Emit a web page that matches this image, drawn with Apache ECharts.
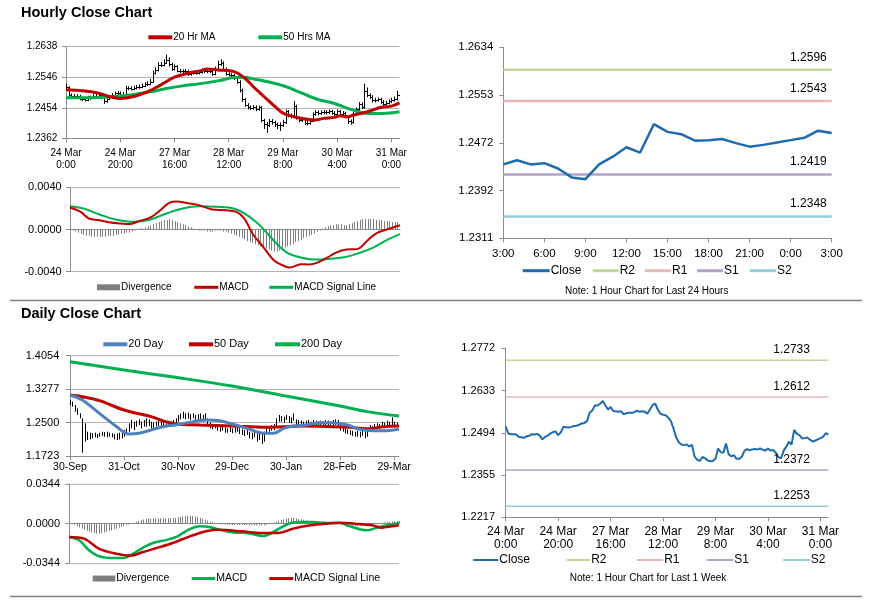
<!DOCTYPE html>
<html><head><meta charset="utf-8">
<script src="https://cdn.jsdelivr.net/npm/echarts@6/dist/echarts.min.js"></script>
<style>html,body{margin:0;padding:0;background:#fff}#c{width:873px;height:601px}</style>
</head><body><div id="c"></div>
<script>
const FONT = "'Liberation Sans', Arial, sans-serif";

// ---------- Hourly (last week) ----------
const hourTickIdx = [0, 20, 40, 60, 80, 100, 120];
const hourTickLabels = ['24 Mar\n0:00', '24 Mar\n20:00', '27 Mar\n16:00', '28 Mar\n12:00', '29 Mar\n8:00', '30 Mar\n4:00', '31 Mar\n0:00'];
const hourPriceTicks = ['1.2362', '1.2454', '1.2546', '1.2638'];
const hourMacdTicks = ['-0.0040', '0.0000', '0.0040'];
const weekTicks = ['1.2217', '1.2355', '1.2494', '1.2633', '1.2772'];

const hourlyClose = [
 1.2516,1.2492,1.2490,1.2490,1.2489,1.2481,1.2480,1.2478,1.2483,1.2485,
 1.2490,1.2489,1.2491,1.2485,1.2473,1.2481,1.2485,1.2492,1.2497,1.2499,
 1.2487,1.2496,1.2514,1.2513,1.2512,1.2514,1.2517,1.2518,1.2521,1.2525,
 1.2527,1.2533,1.2560,1.2568,1.2584,1.2584,1.2590,1.2599,1.2585,1.2571,
 1.2579,1.2566,1.2565,1.2564,1.2565,1.2555,1.2559,1.2560,1.2560,1.2562,
 1.2567,1.2564,1.2565,1.2564,1.2557,1.2571,1.2586,1.2590,1.2571,1.2557,
 1.2554,1.2552,1.2544,1.2533,1.2508,1.2479,1.2463,1.2456,1.2454,1.2456,
 1.2450,1.2455,1.2417,1.2406,1.2402,1.2415,1.2411,1.2404,1.2401,1.2402,
 1.2410,1.2443,1.2431,1.2429,1.2459,1.2424,1.2417,1.2421,1.2409,1.2409,
 1.2415,1.2435,1.2441,1.2437,1.2440,1.2441,1.2440,1.2443,1.2439,1.2436,
 1.2443,1.2436,1.2438,1.2429,1.2414,1.2411,1.2436,1.2449,1.2465,1.2456,
 1.2504,1.2491,1.2487,1.2476,1.2477,1.2479,1.2472,1.2466,1.2469,1.2473,
 1.2477,1.2481,1.2493,1.2489];
const hourlyHigh = [
 1.2526,1.2519,1.2497,1.2496,1.2495,1.2493,1.2487,1.2486,1.2490,1.2491,
 1.2496,1.2495,1.2498,1.2495,1.2488,1.2486,1.2490,1.2498,1.2503,1.2505,
 1.2503,1.2501,1.2520,1.2519,1.2518,1.2520,1.2522,1.2524,1.2527,1.2531,
 1.2534,1.2541,1.2566,1.2576,1.2591,1.2592,1.2600,1.2614,1.2606,1.2590,
 1.2585,1.2583,1.2571,1.2570,1.2571,1.2569,1.2565,1.2566,1.2567,1.2568,
 1.2573,1.2572,1.2571,1.2571,1.2568,1.2578,1.2596,1.2600,1.2594,1.2575,
 1.2561,1.2559,1.2557,1.2549,1.2537,1.2512,1.2484,1.2468,1.2461,1.2462,
 1.2461,1.2461,1.2459,1.2421,1.2411,1.2420,1.2420,1.2415,1.2409,1.2410,
 1.2418,1.2449,1.2447,1.2437,1.2474,1.2463,1.2428,1.2427,1.2425,1.2415,
 1.2421,1.2440,1.2447,1.2446,1.2446,1.2447,1.2447,1.2449,1.2448,1.2444,
 1.2449,1.2447,1.2444,1.2442,1.2432,1.2419,1.2441,1.2455,1.2471,1.2470,
 1.2527,1.2515,1.2497,1.2492,1.2484,1.2485,1.2484,1.2477,1.2475,1.2479,
 1.2484,1.2488,1.2505,1.2499];
const hourlyLow = [
 1.2505,1.2487,1.2484,1.2483,1.2482,1.2476,1.2474,1.2473,1.2474,1.2478,
 1.2481,1.2484,1.2483,1.2479,1.2466,1.2469,1.2477,1.2481,1.2487,1.2490,
 1.2482,1.2483,1.2492,1.2507,1.2506,1.2507,1.2509,1.2511,1.2513,1.2516,
 1.2519,1.2522,1.2530,1.2554,1.2563,1.2576,1.2579,1.2586,1.2578,1.2565,
 1.2566,1.2561,1.2559,1.2558,1.2558,1.2550,1.2551,1.2554,1.2554,1.2555,
 1.2557,1.2559,1.2558,1.2558,1.2550,1.2552,1.2566,1.2580,1.2566,1.2551,
 1.2548,1.2546,1.2538,1.2526,1.2500,1.2472,1.2457,1.2449,1.2447,1.2448,
 1.2444,1.2445,1.2410,1.2390,1.2378,1.2396,1.2403,1.2396,1.2390,1.2384,
 1.2396,1.2405,1.2425,1.2422,1.2425,1.2418,1.2410,1.2411,1.2402,1.2401,
 1.2403,1.2411,1.2430,1.2431,1.2432,1.2434,1.2434,1.2435,1.2433,1.2430,
 1.2431,1.2430,1.2431,1.2422,1.2405,1.2403,1.2406,1.2431,1.2444,1.2450,
 1.2451,1.2486,1.2480,1.2470,1.2470,1.2472,1.2466,1.2460,1.2461,1.2464,
 1.2468,1.2472,1.2476,1.2483];

const ma20hIdx = [0,6,12,16,20,25,30,35,40,45,50,52,56,62,66,69,73,77,80,84,88,92,95,99,101,104,106,109,113,116,120,123];
const ma20hVal = [1.2508,1.2505,1.2498,1.2488,1.2482,1.2488,1.2502,1.2523,1.2546,1.2558,1.2566,1.2571,1.2568,1.2563,1.2543,1.2518,1.2488,1.2458,1.2438,1.2427,1.2420,1.2417,1.2422,1.2425,1.2430,1.2427,1.2432,1.2437,1.2447,1.2455,1.2459,1.2469];
const ma50hIdx = [0,6,12,19,25,31,37,43,49,56,62,66,69,74,81,87,93,99,105,109,112,117,123];
const ma50hVal = [1.2484,1.2484,1.2485,1.2489,1.2494,1.2502,1.2512,1.2520,1.2526,1.2535,1.2545,1.2546,1.2541,1.2533,1.2518,1.2498,1.2479,1.2467,1.2449,1.2440,1.2437,1.2437,1.2442];

const macdHIdx = [0,4,7,11,15,19,22,26,30,34,37,40,43,48,53,58,62,65,68,72,76,80,82,86,89,92,96,99,103,107,111,114,118,123];
const macdHVal = [0.00209,0.00167,0.00104,0.00088,0.00066,0.00057,0.00051,0.00082,0.00114,0.0019,0.00253,0.00265,0.00253,0.00231,0.0019,0.00183,0.00167,0.00104,-0.00038,-0.00164,-0.00291,-0.00348,-0.0036,-0.00329,-0.00332,-0.00316,-0.00265,-0.00221,-0.0019,-0.00186,-0.00101,-0.00038,0,0.00041];
const sigHIdx = [0,5,11,17,24,30,36,42,48,55,61,65,70,73,77,81,86,91,94,98,103,108,113,118,123];
const sigHVal = [0.00221,0.00199,0.00142,0.00095,0.00073,0.00095,0.00152,0.00199,0.00221,0.00215,0.00199,0.00152,0.00057,-0.00022,-0.00133,-0.00221,-0.00265,-0.00284,-0.00284,-0.00275,-0.00259,-0.00221,-0.00171,-0.00101,-0.00044];
const divH = [
 0.0000,-0.0001,-0.0002,-0.0003,-0.0004,-0.0005,-0.0006,-0.0006,-0.0007,-0.0007,
 -0.0007,-0.0007,-0.0007,-0.0007,-0.0006,-0.0006,-0.0006,-0.0005,-0.0005,-0.0004,
 -0.0004,-0.0003,-0.0003,-0.0002,-0.0001,0.0000,0.0001,0.0001,0.0002,0.0003,
 0.0004,0.0005,0.0006,0.0007,0.0008,0.0009,0.0009,0.0010,0.0009,0.0008,
 0.0007,0.0006,0.0005,0.0004,0.0003,0.0002,0.0001,0.0000,-0.0001,-0.0001,
 -0.0001,-0.0002,-0.0002,-0.0002,-0.0001,-0.0001,-0.0001,-0.0002,-0.0002,-0.0003,
 -0.0004,-0.0005,-0.0006,-0.0007,-0.0008,-0.0009,-0.0011,-0.0012,-0.0013,-0.0014,
 -0.0015,-0.0016,-0.0017,-0.0018,-0.0019,-0.0020,-0.0021,-0.0021,-0.0020,-0.0019,
 -0.0017,-0.0016,-0.0015,-0.0014,-0.0012,-0.0011,-0.0010,-0.0008,-0.0007,-0.0006,
 -0.0005,-0.0004,-0.0002,-0.0001,0.0001,0.0002,0.0003,0.0004,0.0004,0.0005,
 0.0005,0.0005,0.0004,0.0004,0.0005,0.0006,0.0007,0.0008,0.0009,0.0010,
 0.0010,0.0010,0.0010,0.0010,0.0009,0.0009,0.0009,0.0008,0.0008,0.0008,
 0.0007,0.0007,0.0007,0.0007];

// ---------- Last 24 hours ----------
const h24TickIdx = [0,3,6,9,12,15,18,21,24];
const h24Labels = ['3:00','6:00','9:00','12:00','15:00','18:00','21:00','0:00','3:00'];
const h24Ticks = ['1.2311','1.2392','1.2472','1.2553','1.2634'];
const levelNames = ['R2','R1','S1','S2'];
const levels24 = [1.2596, 1.2543, 1.2419, 1.2348];
const levelsWeek = [1.2733, 1.2612, 1.2372, 1.2253];

// ---------- Daily ----------
const dayTickIdx = [0,22,44,66,88,110,132];
const dayTickLabels = ['30-Sep','31-Oct','30-Nov','29-Dec','30-Jan','28-Feb','29-Mar'];
const dayPriceTicks = ['1.1723','1.2500','1.3277','1.4054'];
const dayMacdTicks = ['-0.0344','0.0000','0.0344'];
const dailyHigh = [
 1.3024,1.2985,1.2908,1.2830,1.2714,1.2598,1.2482,1.2288,1.2265,1.2250,
 1.2265,1.2234,1.2265,1.2288,1.2281,1.2288,1.2265,1.2250,1.2234,1.2250,
 1.2265,1.2288,1.2327,1.2366,1.2482,1.2559,1.2521,1.2544,1.2575,1.2521,
 1.2559,1.2598,1.2575,1.2521,1.2497,1.2521,1.2544,1.2521,1.2497,1.2482,
 1.2497,1.2521,1.2559,1.2598,1.2676,1.2714,1.2753,1.2714,1.2730,1.2699,
 1.2714,1.2676,1.2699,1.2714,1.2676,1.2714,1.2598,1.2497,1.2443,1.2466,
 1.2420,1.2405,1.2420,1.2389,1.2366,1.2405,1.2366,1.2389,1.2420,1.2366,
 1.2343,1.2327,1.2366,1.2288,1.2265,1.2312,1.2250,1.2288,1.2250,1.2288,
 1.2405,1.2420,1.2443,1.2466,1.2598,1.2676,1.2652,1.2637,1.2676,1.2652,
 1.2621,1.2714,1.2575,1.2559,1.2544,1.2521,1.2544,1.2559,1.2521,1.2559,
 1.2544,1.2521,1.2544,1.2521,1.2559,1.2544,1.2521,1.2559,1.2575,1.2559,
 1.2443,1.2405,1.2366,1.2343,1.2327,1.2312,1.2288,1.2312,1.2288,1.2312,
 1.2288,1.2366,1.2443,1.2420,1.2466,1.2482,1.2466,1.2521,1.2497,1.2544,
 1.2521,1.2621,1.2521,1.2497,1.2482];
const dailyLow = [
 1.2908,1.2869,1.2753,1.2676,1.2598,1.1801,1.2056,1.2095,1.2110,1.2134,
 1.2157,1.2141,1.2172,1.2188,1.2172,1.2157,1.2172,1.2157,1.2110,1.2095,
 1.2110,1.2134,1.2172,1.2250,1.2288,1.2366,1.2327,1.2405,1.2443,1.2366,
 1.2405,1.2405,1.2420,1.2366,1.2343,1.2405,1.2420,1.2405,1.2366,1.2389,
 1.2405,1.2420,1.2443,1.2466,1.2521,1.2575,1.2598,1.2575,1.2590,1.2559,
 1.2598,1.2544,1.2559,1.2575,1.2521,1.2559,1.2420,1.2366,1.2343,1.2366,
 1.2312,1.2288,1.2312,1.2265,1.2265,1.2281,1.2250,1.2265,1.2288,1.2234,
 1.2211,1.2188,1.2211,1.2134,1.2110,1.2157,1.2056,1.2095,1.2002,1.2056,
 1.2250,1.2288,1.2312,1.2327,1.2420,1.2521,1.2521,1.2497,1.2559,1.2497,
 1.2482,1.2544,1.2420,1.2420,1.2405,1.2405,1.2420,1.2443,1.2405,1.2420,
 1.2405,1.2389,1.2420,1.2405,1.2435,1.2420,1.2405,1.2420,1.2443,1.2420,
 1.2312,1.2288,1.2250,1.2234,1.2211,1.2188,1.2172,1.2172,1.2157,1.2188,
 1.2134,1.2172,1.2288,1.2312,1.2343,1.2366,1.2366,1.2405,1.2389,1.2420,
 1.2405,1.2443,1.2389,1.2405,1.2389];
const ma20dIdx = [0,5,12,19,24,28,33,39,43,50,56,61,66,72,79,83,87,91,96,102,107,113,118,123,129,134];
const ma20dVal = [1.3140,1.3024,1.2714,1.2405,1.2234,1.2250,1.2327,1.2420,1.2444,1.2521,1.2560,1.2544,1.2467,1.2366,1.2250,1.2250,1.2366,1.2420,1.2444,1.2498,1.2498,1.2444,1.2343,1.2312,1.2312,1.2343];
const ma50dIdx = [0,5,12,22,33,39,43,53,66,80,87,94,107,114,121,128,134];
const ma50dVal = [1.3140,1.3101,1.3009,1.2792,1.2637,1.2521,1.2467,1.2444,1.2420,1.2389,1.2405,1.2420,1.2405,1.2389,1.2358,1.2405,1.2420];
const ma200dIdx = [0,22,43,66,88,110,121,134];
const ma200dVal = [1.3915,1.3721,1.3551,1.3350,1.3117,1.2885,1.2754,1.2653];

const macdDIdx = [0,4,8,12,17,22,26,30,34,40,44,48,53,57,61,67,72,79,83,86,90,94,99,105,110,114,121,125,129,134];
const macdDVal = [-0.01156,-0.01445,-0.02312,-0.02832,-0.02977,-0.02977,-0.02601,-0.02081,-0.01676,-0.01387,-0.01098,-0.00578,-0.00231,-0.00289,-0.0052,-0.0078,-0.00809,-0.01069,-0.00723,-0.00347,0.00058,0.00145,0.00145,0.00058,0.00058,-0.00231,-0.00578,-0.00347,-0.00145,0.00058];
const sigDIdx = [0,6,12,19,25,30,36,42,49,56,61,70,78,85,91,98,104,110,116,123,127,131,134];
const sigDVal = [-0.01156,-0.013,-0.02168,-0.02601,-0.02774,-0.02457,-0.02081,-0.01676,-0.01098,-0.00636,-0.0052,-0.00665,-0.00809,-0.00809,-0.00434,-0.00145,0,0.00087,0,-0.00145,-0.00347,-0.00231,-0.00145];
const divD = [
 0.0000,-0.0004,-0.0012,-0.0022,-0.0032,-0.0042,-0.0052,-0.0062,-0.0070,-0.0077,
 -0.0083,-0.0087,-0.0086,-0.0082,-0.0077,-0.0071,-0.0064,-0.0057,-0.0049,-0.0042,
 -0.0035,-0.0028,-0.0021,-0.0014,-0.0007,0.0000,0.0008,0.0016,0.0024,0.0031,
 0.0037,0.0041,0.0044,0.0046,0.0046,0.0045,0.0045,0.0046,0.0047,0.0047,
 0.0046,0.0046,0.0048,0.0051,0.0055,0.0059,0.0063,0.0066,0.0068,0.0068,
 0.0066,0.0062,0.0057,0.0050,0.0042,0.0034,0.0026,0.0018,0.0011,0.0005,
 0.0001,-0.0003,-0.0006,-0.0008,-0.0010,-0.0011,-0.0012,-0.0012,-0.0011,-0.0010,
 -0.0010,-0.0011,-0.0012,-0.0013,-0.0014,-0.0015,-0.0016,-0.0016,-0.0015,-0.0013,
 -0.0009,-0.0004,0.0002,0.0009,0.0016,0.0024,0.0031,0.0038,0.0043,0.0047,
 0.0049,0.0049,0.0046,0.0042,0.0037,0.0032,0.0027,0.0022,0.0018,0.0015,
 0.0012,0.0010,0.0008,0.0007,0.0006,0.0005,0.0004,0.0003,0.0002,0.0001,
 -0.0001,-0.0004,-0.0008,-0.0012,-0.0016,-0.0019,-0.0021,-0.0022,-0.0022,-0.0021,
 -0.0019,-0.0016,-0.0012,-0.0008,-0.0004,0.0000,0.0004,0.0008,0.0012,0.0015,
 0.0018,0.0020,0.0021,0.0022,0.0022];

// ---------- styling ----------
const RED = '#c00000', GREEN = '#00b050', BLUE_D = '#4f81bd', BLUE_C = '#1f6bb0', GRAY = '#7f7f7f';
const LEVEL_COLORS = ['#c3d69b', '#e6b9b8', '#b3a2c7', '#93cddd'];
const AX = '#8c8c8c', GRIDC = '#b4b4b4';

const pairs = (xs, ys) => xs.map((x, i) => [x, ys[i]]);

function yAxisFor(gi, ticks, fs, margin, showGrid) {
  const min = parseFloat(ticks[0]), max = parseFloat(ticks[ticks.length - 1]);
  const interval = (max - min) / (ticks.length - 1);
  return {
    type: 'value', gridIndex: gi, min, max, interval,
    axisLine: { show: true, lineStyle: { color: AX, width: 1 } },
    axisTick: { show: true, length: 4, lineStyle: { color: AX } },
    splitLine: { show: showGrid, lineStyle: { color: GRIDC, width: 1 } },
    axisLabel: { margin, fontSize: fs, color: '#000', fontFamily: FONT,
      formatter: v => ticks[Math.round((v - min) / interval)] }
  };
}
function xAxisFor(gi, max, tickIdx, labels, fs, lh, margin) {
  const has = !!labels;
  const ax = {
    type: 'value', gridIndex: gi, min: 0, max,
    axisLine: { show: true, onZero: true, lineStyle: { color: AX, width: 1 } },
    splitLine: { show: false },
    axisTick: { show: has, length: 4, lineStyle: { color: AX } },
    axisLabel: { show: has }
  };
  if (has) {
    ax.axisTick.customValues = tickIdx;
    ax.axisLabel = { show: true, customValues: tickIdx, margin, fontSize: fs, lineHeight: lh,
      color: '#000', fontFamily: FONT, formatter: v => labels[tickIdx.indexOf(v)] };
  }
  return ax;
}
// vertical range line; optional open/close ticks (values 3 and 4)
function vline(color, withTicks) {
  return (params, api) => {
    const x = api.value(0);
    const a = api.coord([x, api.value(1)]);
    const b = api.coord([x, api.value(2)]);
    const xs = Math.round(a[0]) + 0.5;
    const st = { stroke: color, lineWidth: 1 };
    const kids = [{ type: 'line', shape: { x1: xs, y1: a[1], x2: xs, y2: b[1] }, style: st }];
    if (withTicks) {
      const o = api.coord([x, api.value(3)]);
      const c = api.coord([x, api.value(4)]);
      const yo = Math.round(o[1]) + 0.5, yc = Math.round(c[1]) + 0.5;
      kids.push({ type: 'line', shape: { x1: xs - 1.5, y1: yo, x2: xs, y2: yo }, style: st });
      kids.push({ type: 'line', shape: { x1: xs, y1: yc, x2: xs + 1.5, y2: yc }, style: st });
    }
    return { type: 'group', children: kids };
  };
}
function barsS(name, gi, data, color, withTicks) {
  return { type: 'custom', name, xAxisIndex: gi, yAxisIndex: gi, color, renderItem: vline(color, withTicks),
    data, encode: { x: 0, y: [1, 2] }, silent: true, clip: true };
}
function lineS(name, gi, data, color, width, smooth) {
  return { type: 'line', name, xAxisIndex: gi, yAxisIndex: gi, data, color, symbol: 'none', showSymbol: false,
    smooth: smooth === undefined ? 0.35 : smooth, lineStyle: { color, width }, silent: true };
}
function levelS(name, gi, v, xEnd, color, width, labelX, fs, dist) {
  return { type: 'line', name, xAxisIndex: gi, yAxisIndex: gi, data: [[0, v], [xEnd, v]], color,
    symbol: 'none', lineStyle: { color, width }, silent: true,
    markPoint: { symbol: 'rect', symbolSize: 1, itemStyle: { color: 'rgba(0,0,0,0)' }, silent: true,
      data: [{ coord: [labelX, v], value: v }],
      label: { show: true, position: 'top', distance: dist, color: '#000', fontSize: fs, fontFamily: FONT,
        formatter: p => Number(p.value).toFixed(4) } } };
}
function leg(name, x, cy, w, h, color, fs) {
  return { left: x, top: cy - Math.max(fs, h) / 2, padding: 0, itemWidth: w, itemHeight: h, selectedMode: false,
    data: [{ name, icon: 'rect', itemStyle: { color, borderWidth: 0 } }],
    formatter: n => n.split('|')[0],
    textStyle: { fontSize: fs, color: '#000', fontFamily: FONT, padding: [0, 0, 0, -4] } };
}

const series = [];
// P1 hourly price (OHLC bars: open = previous hour's close)
series.push(barsS('hbars', 0, hourlyLow.map((lo, i) => [i, lo, hourlyHigh[i], hourlyClose[Math.max(0, i - 1)], hourlyClose[i]]), '#000', true));
series.push(lineS('50 Hrs MA|h', 0, pairs(ma50hIdx, ma50hVal), GREEN, 3));
series.push(lineS('20 Hr MA|h', 0, pairs(ma20hIdx, ma20hVal), RED, 3));
// P2 hourly MACD
series.push(barsS('Divergence|h', 1, divH.map((v, i) => [i, 0, v]), GRAY));
series.push(lineS('MACD Signal Line|h', 1, pairs(sigHIdx, sigHVal), GREEN, 2));
series.push(lineS('MACD|h', 1, pairs(macdHIdx, macdHVal), RED, 2));
// P3 last 24 hours
levelNames.forEach((n, k) => series.push(levelS(n + '|d', 2, levels24[k], 24, LEVEL_COLORS[k], 2.5, 22.3, 12, 6)));
series.push(lineS('Close|d', 2, hourlyClose.slice(-25).map((v, i) => [i, v]), BLUE_C, 2.5, false));
// P4 daily price
series.push(barsS('dbars', 3, dailyLow.map((lo, i) => [i, lo, dailyHigh[i]]), '#000'));
series.push(lineS('200 Day', 3, pairs(ma200dIdx, ma200dVal), GREEN, 3));
series.push(lineS('50 Day', 3, pairs(ma50dIdx, ma50dVal), RED, 3));
series.push(lineS('20 Day', 3, pairs(ma20dIdx, ma20dVal), BLUE_D, 3));
// P5 daily MACD
series.push(barsS('Divergence|w', 4, divD.map((v, i) => [i, 0, v]), GRAY));
series.push(lineS('MACD|w', 4, pairs(macdDIdx, macdDVal), GREEN, 2.5));
series.push(lineS('MACD Signal Line|w', 4, pairs(sigDIdx, sigDVal), RED, 2.5));
// P6 last week
levelNames.forEach((n, k) => series.push(levelS(n + '|k', 5, levelsWeek[k], 123, LEVEL_COLORS[k], 1.5, 109, 12, 4)));
series.push(lineS('Close|k', 5, hourlyClose.map((v, i) => [i, v]), BLUE_C, 2, false));

const legends = [
  leg('20 Hr MA|h', 148.3, 37.3, 24, 4, RED, 10),
  leg('50 Hrs MA|h', 258.3, 37.3, 24, 4, GREEN, 10),
  leg('Divergence|h', 97, 287.3, 23, 6, GRAY, 10),
  leg('MACD|h', 194.3, 287.3, 24, 3, RED, 10),
  leg('MACD Signal Line|h', 269.3, 287.3, 24, 3, GREEN, 10),
  leg('Close|d', 522.7, 270.7, 27, 3, BLUE_C, 12),
  leg('R2|d', 592.7, 270.7, 26, 3, LEVEL_COLORS[0], 12),
  leg('R1|d', 645, 270.7, 26, 3, LEVEL_COLORS[1], 12),
  leg('S1|d', 697, 270.7, 26, 3, LEVEL_COLORS[2], 12),
  leg('S2|d', 750, 270.7, 26, 3, LEVEL_COLORS[3], 12),
  leg('20 Day', 103.3, 344.3, 24, 4, BLUE_D, 11),
  leg('50 Day', 189, 344.3, 24, 4, RED, 11),
  leg('200 Day', 275, 344.3, 25, 4, GREEN, 11),
  leg('Divergence|w', 92.7, 578.3, 22.5, 6, GRAY, 10.5),
  leg('MACD|w', 191.7, 578.3, 23.5, 3, GREEN, 10.5),
  leg('MACD Signal Line|w', 269.3, 578.3, 24, 3, RED, 10.5),
  leg('Close|k', 473.3, 560, 25, 2, BLUE_C, 12),
  leg('R2|k', 566.7, 560, 23.5, 2, LEVEL_COLORS[0], 12),
  leg('R1|k', 636.7, 560, 26.5, 2, LEVEL_COLORS[1], 12),
  leg('S1|k', 706.7, 560, 26.5, 2, LEVEL_COLORS[2], 12),
  leg('S2|k', 783.3, 560, 26.5, 2, LEVEL_COLORS[3], 12)
];

const option = {
  animation: false,
  backgroundColor: '#fff',
  grid: [
    { left: 66, top: 46.7, width: 333.5, height: 91.6 },
    { left: 70, top: 187.3, width: 330, height: 84.4 },
    { left: 503.3, top: 47.3, width: 328.4, height: 191 },
    { left: 70, top: 355.7, width: 329, height: 100.3 },
    { left: 69.3, top: 484, width: 329.7, height: 79.3 },
    { left: 505.7, top: 348.3, width: 322.6, height: 169 }
  ],
  xAxis: [
    xAxisFor(0, 123, hourTickIdx, hourTickLabels, 10, 12, 9),
    xAxisFor(1, 123, null, null),
    xAxisFor(2, 24, h24TickIdx, h24Labels, 11.5, 14, 8.5),
    xAxisFor(3, 134, dayTickIdx, dayTickLabels, 10.5, 12.6, 4.4),
    xAxisFor(4, 134, null, null),
    xAxisFor(5, 123, hourTickIdx, hourTickLabels, 12, 13.3, 7.7)
  ],
  yAxis: [
    yAxisFor(0, hourPriceTicks, 10, 8.7, true),
    yAxisFor(1, hourMacdTicks, 11, 8.3, true),
    yAxisFor(2, h24Ticks, 11.5, 10, false),
    yAxisFor(3, dayPriceTicks, 11, 10.7, true),
    yAxisFor(4, dayMacdTicks, 11, 9.3, true),
    yAxisFor(5, weekTicks, 11, 10.7, false)
  ],
  legend: legends,
  series,
  graphic: [
    { type: 'text', x: 21, y: 12.5, style: { text: 'Hourly Close Chart', fontSize: 14.5, fontWeight: 'bold', fontFamily: FONT, fill: '#000', verticalAlign: 'middle' } },
    { type: 'text', x: 21, y: 313.5, style: { text: 'Daily Close Chart', fontSize: 14.5, fontWeight: 'bold', fontFamily: FONT, fill: '#000', verticalAlign: 'middle' } },
    { type: 'text', x: 646.7, y: 291.7, style: { text: 'Note: 1 Hour Chart for Last 24 Hours', fontSize: 10, fontFamily: FONT, fill: '#000', align: 'center', verticalAlign: 'middle' } },
    { type: 'text', x: 648, y: 578.3, style: { text: 'Note: 1 Hour Chart for Last 1 Week', fontSize: 10, fontFamily: FONT, fill: '#000', align: 'center', verticalAlign: 'middle' } },
    { type: 'line', shape: { x1: 10, y1: 300.5, x2: 862, y2: 300.5 }, style: { stroke: '#808080', lineWidth: 1.5 } },
    { type: 'line', shape: { x1: 10, y1: 596.5, x2: 862, y2: 596.5 }, style: { stroke: '#808080', lineWidth: 1.5 } }
  ]
};

const chart = echarts.init(document.getElementById('c'), null, { renderer: 'canvas' });
chart.setOption(option);
</script></body></html>
